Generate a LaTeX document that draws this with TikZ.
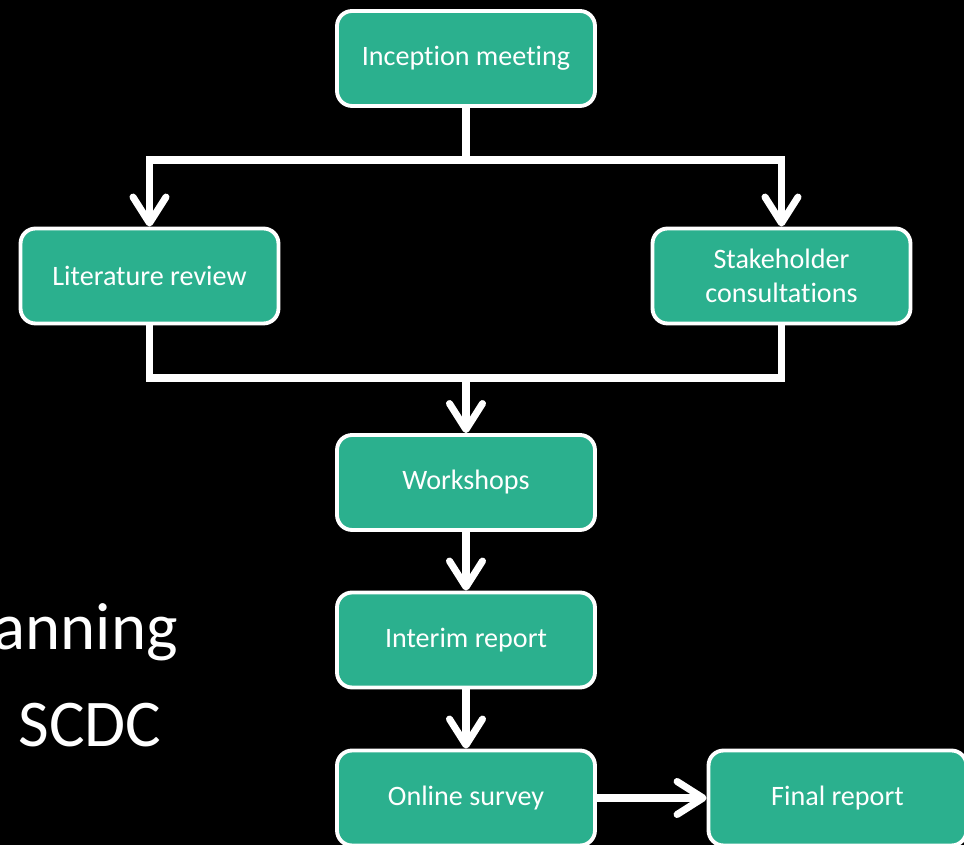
\documentclass[tikz,border=0pt]{standalone}
\usepackage{fontspec}
\setmainfont{Carlito}[Ligatures=NoCommon]
\usetikzlibrary{arrows.meta}
\definecolor{stagegreen}{RGB}{43,176,142}
\tikzstyle{stage}=[draw=white, line width=2.2pt, fill=stagegreen, rounded corners=0.3cm, minimum width=5.16cm, minimum height=1.9cm, text=white, align=center, font=\fontsize{16}{19.3}\selectfont]
\tikzstyle{link}=[draw=white, line width=4pt]
\tikzstyle{flow}=[link, -{Straight Barb[length=0.52cm,width=0.66cm,round]}]
\tikzstyle{bigtext}=[text=white, inner sep=0pt, anchor=base east, font=\fontsize{38}{42}\selectfont]

\begin{document}
\begin{tikzpicture}[x=0.02cm,y=0.02cm]
\fill[black] (0,0) rectangle (964,845);
\clip (0,0) rectangle (964,845);

\node[bigtext] (planning) at (178,195) {anning};
\node[bigtext] (scdc) at (162,98) {SCDC};

\node[stage] (inception) at (466,786.5) {Inception meeting};
\node[stage] (litreview) at (149.5,569) {Literature review};
\node[stage] (stakeholder) at (781.5,569) {Stakeholder\\consultations};
\node[stage] (workshops) at (466,362.5) {Workshops};
\node[stage] (interim) at (466,205) {Interim report};
\node[stage] (survey) at (466,47) {Online survey};
\node[stage] (final) at (837.5,47) {Final report};

\coordinate (split) at (466,685);
\coordinate (merge) at (466,467);

\draw[flow] (inception) -- (split) -| (litreview);
\draw[flow] (split) -| (stakeholder);
\draw[link] (litreview) |- (merge);
\draw[link] (stakeholder) |- (merge);
\draw[flow] (merge) -- (workshops);
\draw[flow] (workshops) -- (interim);
\draw[flow] (interim) -- (survey);
\draw[flow] (survey) -- (final);
\end{tikzpicture}
\end{document}
